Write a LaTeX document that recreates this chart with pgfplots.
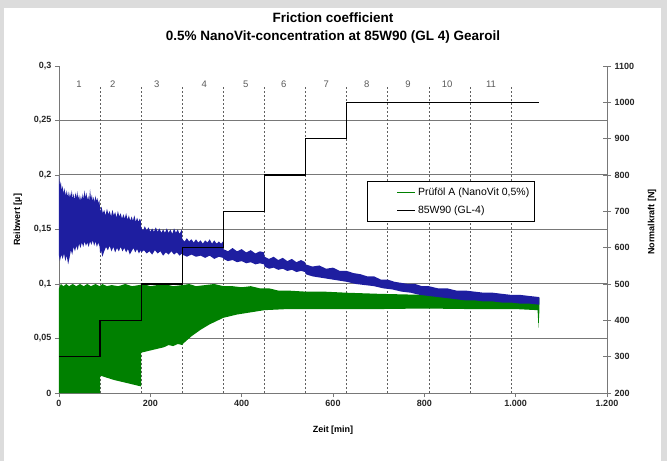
\documentclass[border=0pt]{standalone}
\usepackage{fontspec}
\setmainfont{Liberation Sans}
\usepackage{pgfplots}
\pgfplotsset{compat=1.18}
\definecolor{gBand}{RGB}{0,128,0}
\definecolor{bBand}{RGB}{30,30,160}
\definecolor{axgray}{RGB}{120,120,120}
\definecolor{bggray}{RGB}{220,220,220}
\definecolor{lblgray}{RGB}{90,90,90}

\begin{document}
\begin{tikzpicture}[x=1pt,y=1pt]
\fill[bggray] (0,0) rectangle (667,461);
\fill[white] (4,0) rectangle (661,453);
\node[font=\bfseries\fontsize{13.5}{15}\selectfont] at (333,443) {Friction coefficient};
\node[font=\bfseries\fontsize{13.5}{15}\selectfont] at (333,424) {0.5\% NanoVit-concentration at 85W90 (GL 4) Gearoil};

\begin{axis}[
  at={(59pt,68pt)}, anchor=south west, scale only axis,
  width=548pt, height=327pt,
  xmin=0, xmax=1200, ymin=0, ymax=0.3,
  axis x line*=bottom, axis y line*=left,
  xtick={0,200,400,600,800,1000,1200},
  xticklabels={0,200,400,600,800,1.000,1.200},
  ytick={0,0.05,0.1,0.15,0.2,0.25,0.3},
  yticklabels={0,{0,05},{0,1},{0,15},{0,2},{0,25},{0,3}},
  tick label style={font=\bfseries\fontsize{9}{11}\selectfont, text=black!85},
  tick align=outside, major tick length=4pt,
  axis line style={axgray, line width=0.9pt},
  tick style={axgray, line width=0.7pt},
  xlabel={Zeit [min]},
  xlabel style={font=\bfseries\fontsize{9}{11}\selectfont, at={(axis description cs:0.5,-0.113)}, anchor=center},
  ylabel={Reibwert [µ]},
  ylabel style={font=\bfseries\fontsize{9}{11}\selectfont, at={(axis description cs:-0.075,0.53)}, anchor=center},
]
\pgfplotsinvokeforeach{0.05,0.1,0.15,0.2,0.25}{
  \draw[axgray, line width=1pt] (axis cs:0,#1) -- (axis cs:1200,#1);
}
\pgfplotsinvokeforeach{90,180,270,360,450,540,630,720,810,900,990}{
  \draw[axgray!80!black, dash pattern=on 2pt off 2pt, line width=0.7pt] (axis cs:#1,0) -- (axis cs:#1,0.282);
}

% green band: upper envelope then lower envelope (reversed)
\addplot[fill=gBand, draw=none] coordinates {
(0,0.096) (4,0.100) (10,0.098) (16,0.100) (22,0.098) (30,0.100) (38,0.098) (46,0.100)
(54,0.098) (62,0.100) (70,0.098) (80,0.100) (89,0.098) (95,0.100) (105,0.098) (115,0.099)
(130,0.098) (145,0.100) (160,0.098) (175,0.099) (185,0.100) (200,0.098) (215,0.099)
(230,0.100) (250,0.098) (270,0.099) (285,0.100) (300,0.098) (320,0.099) (340,0.100)
(360,0.098) (380,0.098) (400,0.097) (420,0.098) (440,0.096) (460,0.096) (480,0.094)
(500,0.094) (540,0.093) (580,0.093) (630,0.092) (700,0.091) (800,0.090) (900,0.089)
(1000,0.088) (1052,0.087)
(1052,0.076) (1050,0.060) (1048,0.076) (1000,0.077) (900,0.077) (800,0.0775) (700,0.077)
(600,0.077) (550,0.077) (500,0.077) (450,0.076) (420,0.074) (390,0.072) (360,0.069)
(330,0.063) (310,0.058) (290,0.052) (271,0.045) (270,0.044) (260,0.045) (250,0.043)
(240,0.044) (230,0.042) (220,0.041) (210,0.040) (200,0.039) (190,0.038) (180,0.037)
(180,0.006) (150,0.009) (120,0.012) (90,0.016)
(90,0) (0,0)
} -- cycle;

% blue band: upper envelope then lower envelope (reversed)
\addplot[fill=bBand, draw=none] coordinates {
(0,0.199) (2,0.190) (4,0.194) (6,0.186) (8,0.190) (10,0.183) (12,0.188) (14,0.181)
(16,0.186) (18,0.180) (20,0.185) (22,0.179) (24,0.184) (26,0.180) (28,0.186) (30,0.178)
(32,0.183) (34,0.177) (36,0.184) (38,0.179) (40,0.185) (42,0.178) (44,0.182) (46,0.176)
(48,0.181) (50,0.177) (52,0.183) (54,0.178) (56,0.186) (58,0.179) (60,0.184) (62,0.177)
(64,0.181) (66,0.176) (68,0.187) (70,0.178) (72,0.182) (74,0.176) (76,0.180) (78,0.175)
(80,0.181) (82,0.176) (84,0.179) (86,0.174) (88,0.177) (89,0.175)
(90,0.166) (93,0.171) (96,0.165) (99,0.168) (102,0.163) (105,0.169) (108,0.164) (111,0.167)
(114,0.162) (117,0.168) (120,0.163) (123,0.166) (126,0.161) (129,0.167) (132,0.162)
(135,0.165) (138,0.160) (141,0.164) (144,0.160) (147,0.165) (150,0.159) (153,0.163)
(156,0.158) (159,0.162) (162,0.158) (165,0.163) (168,0.157) (171,0.161) (174,0.157)
(177,0.160) (179,0.158)
(180,0.152) (184,0.149) (188,0.153) (192,0.149) (196,0.152) (200,0.148) (204,0.151)
(208,0.148) (212,0.152) (216,0.148) (220,0.151) (224,0.147) (228,0.150) (232,0.147)
(236,0.151) (240,0.147) (244,0.150) (248,0.146) (252,0.151) (256,0.147) (260,0.150)
(264,0.146) (269,0.150)
(270,0.141) (275,0.139) (280,0.142) (285,0.139) (290,0.141) (295,0.138) (300,0.141)
(305,0.138) (310,0.140) (315,0.137) (320,0.140) (325,0.138) (330,0.141) (335,0.137)
(340,0.140) (345,0.137) (350,0.139) (355,0.137) (359,0.139)
(360,0.132) (370,0.130) (380,0.133) (390,0.130) (400,0.132) (410,0.129) (420,0.131)
(430,0.128) (440,0.130) (449,0.129)
(450,0.125) (460,0.123) (470,0.125) (480,0.122) (490,0.124) (500,0.121) (510,0.123)
(520,0.120) (530,0.122) (539,0.120)
(540,0.118) (555,0.116) (570,0.117) (585,0.114) (600,0.115) (615,0.112) (630,0.112)
(645,0.110) (660,0.109) (675,0.107) (690,0.107) (705,0.104) (720,0.104) (735,0.102)
(750,0.101) (765,0.100) (780,0.100) (795,0.098) (810,0.098) (830,0.096) (850,0.096)
(870,0.094) (890,0.094) (910,0.093) (930,0.092) (950,0.092) (970,0.091) (990,0.090)
(1010,0.090) (1030,0.089) (1052,0.088)
(1052,0.081) (1030,0.082) (1010,0.082) (990,0.083) (970,0.083) (950,0.084) (930,0.084)
(910,0.085) (890,0.085) (870,0.086) (850,0.087) (830,0.088) (810,0.089) (790,0.090)
(770,0.092) (750,0.093) (730,0.095) (710,0.096) (690,0.098) (670,0.099) (650,0.100)
(630,0.102) (615,0.103) (600,0.104) (585,0.105) (570,0.106) (555,0.107) (540,0.109)
(539,0.111) (530,0.112) (520,0.111) (510,0.113) (500,0.112) (490,0.114) (480,0.113)
(470,0.115) (460,0.114) (450,0.116)
(449,0.118) (440,0.119) (430,0.118) (420,0.120) (410,0.119) (400,0.121) (390,0.120)
(380,0.122) (370,0.121) (360,0.123)
(359,0.124) (350,0.125) (340,0.123) (330,0.126) (320,0.124) (310,0.126) (300,0.125)
(290,0.127) (280,0.125) (270,0.127)
(269,0.128) (264,0.126) (258,0.129) (252,0.127) (246,0.130) (240,0.127) (234,0.129)
(228,0.126) (222,0.130) (216,0.128) (210,0.131) (204,0.127) (198,0.130) (192,0.128)
(186,0.131) (180,0.129)
(179,0.131) (175,0.128) (171,0.132) (167,0.129) (163,0.133) (159,0.130) (155,0.127)
(151,0.132) (147,0.129) (143,0.133) (139,0.130) (135,0.134) (131,0.130) (127,0.133)
(123,0.129) (119,0.134) (115,0.130) (111,0.135) (107,0.131) (103,0.134) (99,0.130)
(95,0.125) (92,0.131) (90,0.128)
(89,0.134) (86,0.138) (83,0.134) (80,0.139) (77,0.135) (74,0.140) (71,0.136) (68,0.139)
(65,0.134) (62,0.138) (59,0.135) (56,0.139) (53,0.134) (50,0.138) (47,0.133) (44,0.137)
(41,0.131) (38,0.135) (35,0.130) (32,0.134) (29,0.127) (26,0.131) (23,0.124) (20,0.118)
(17,0.126) (14,0.121) (11,0.128) (8,0.123) (5,0.127) (2,0.121) (0,0.126)
} -- cycle;

\node[font=\fontsize{9.5}{11}\selectfont, text=lblgray] at (axis cs:44,0.283) {1};
\node[font=\fontsize{9.5}{11}\selectfont, text=lblgray] at (axis cs:118,0.283) {2};
\node[font=\fontsize{9.5}{11}\selectfont, text=lblgray] at (axis cs:214,0.283) {3};
\node[font=\fontsize{9.5}{11}\selectfont, text=lblgray] at (axis cs:318,0.283) {4};
\node[font=\fontsize{9.5}{11}\selectfont, text=lblgray] at (axis cs:409,0.283) {5};
\node[font=\fontsize{9.5}{11}\selectfont, text=lblgray] at (axis cs:492,0.283) {6};
\node[font=\fontsize{9.5}{11}\selectfont, text=lblgray] at (axis cs:585,0.283) {7};
\node[font=\fontsize{9.5}{11}\selectfont, text=lblgray] at (axis cs:674,0.283) {8};
\node[font=\fontsize{9.5}{11}\selectfont, text=lblgray] at (axis cs:764,0.283) {9};
\node[font=\fontsize{9.5}{11}\selectfont, text=lblgray] at (axis cs:850,0.283) {10};
\node[font=\fontsize{9.5}{11}\selectfont, text=lblgray] at (axis cs:946,0.283) {11};
\end{axis}

\begin{axis}[
  at={(59pt,68pt)}, anchor=south west, scale only axis,
  width=548pt, height=327pt,
  xmin=0, xmax=1200, ymin=200, ymax=1100,
  axis x line=none, axis y line*=right,
  ytick={200,300,400,500,600,700,800,900,1000,1100},
  yticklabels={200,300,400,500,600,700,800,900,1000,1100},
  tick label style={font=\bfseries\fontsize{9}{11}\selectfont, text=black!85},
  tick align=center, major tick length=8pt,
  axis line style={axgray, line width=0.9pt},
  tick style={axgray, line width=0.7pt},
  ylabel={Normalkraft [N]},
  ylabel style={font=\bfseries\fontsize{9}{11}\selectfont, at={(axis description cs:1.082,0.523)}, anchor=center},
  legend cell align=left,
  legend style={at={(axis description cs:0.562,0.647)}, anchor=north west,
    draw=black, line width=0.6pt, fill=white, font=\fontsize{10.5}{12}\selectfont,
    inner xsep=3pt, inner ysep=4pt, row sep=5pt},
]
\addlegendimage{legend image code/.code={\path[draw=none, fill=none] (-27pt,0pt) -- (0pt,0pt); \draw[gBand, line width=1.5pt] (0pt,0pt) -- (18pt,0pt);}}
\addlegendentry{Prüföl A (NanoVit 0,5\%)}
\addplot[black, line width=1.3pt, legend image code/.code={\path[draw=none, fill=none] (-27pt,0pt) -- (0pt,0pt); \draw[black, line width=1.3pt] (0pt,0pt) -- (18pt,0pt);}] coordinates {
(0,300) (90,300) (90,400) (180,400) (180,500) (270,500) (270,600) (360,600)
(360,700) (450,700) (450,800) (540,800) (540,900) (630,900) (630,1000) (1050,1000)
};
\addlegendentry{85W90 (GL-4)}
\end{axis}
\end{tikzpicture}
\end{document}
